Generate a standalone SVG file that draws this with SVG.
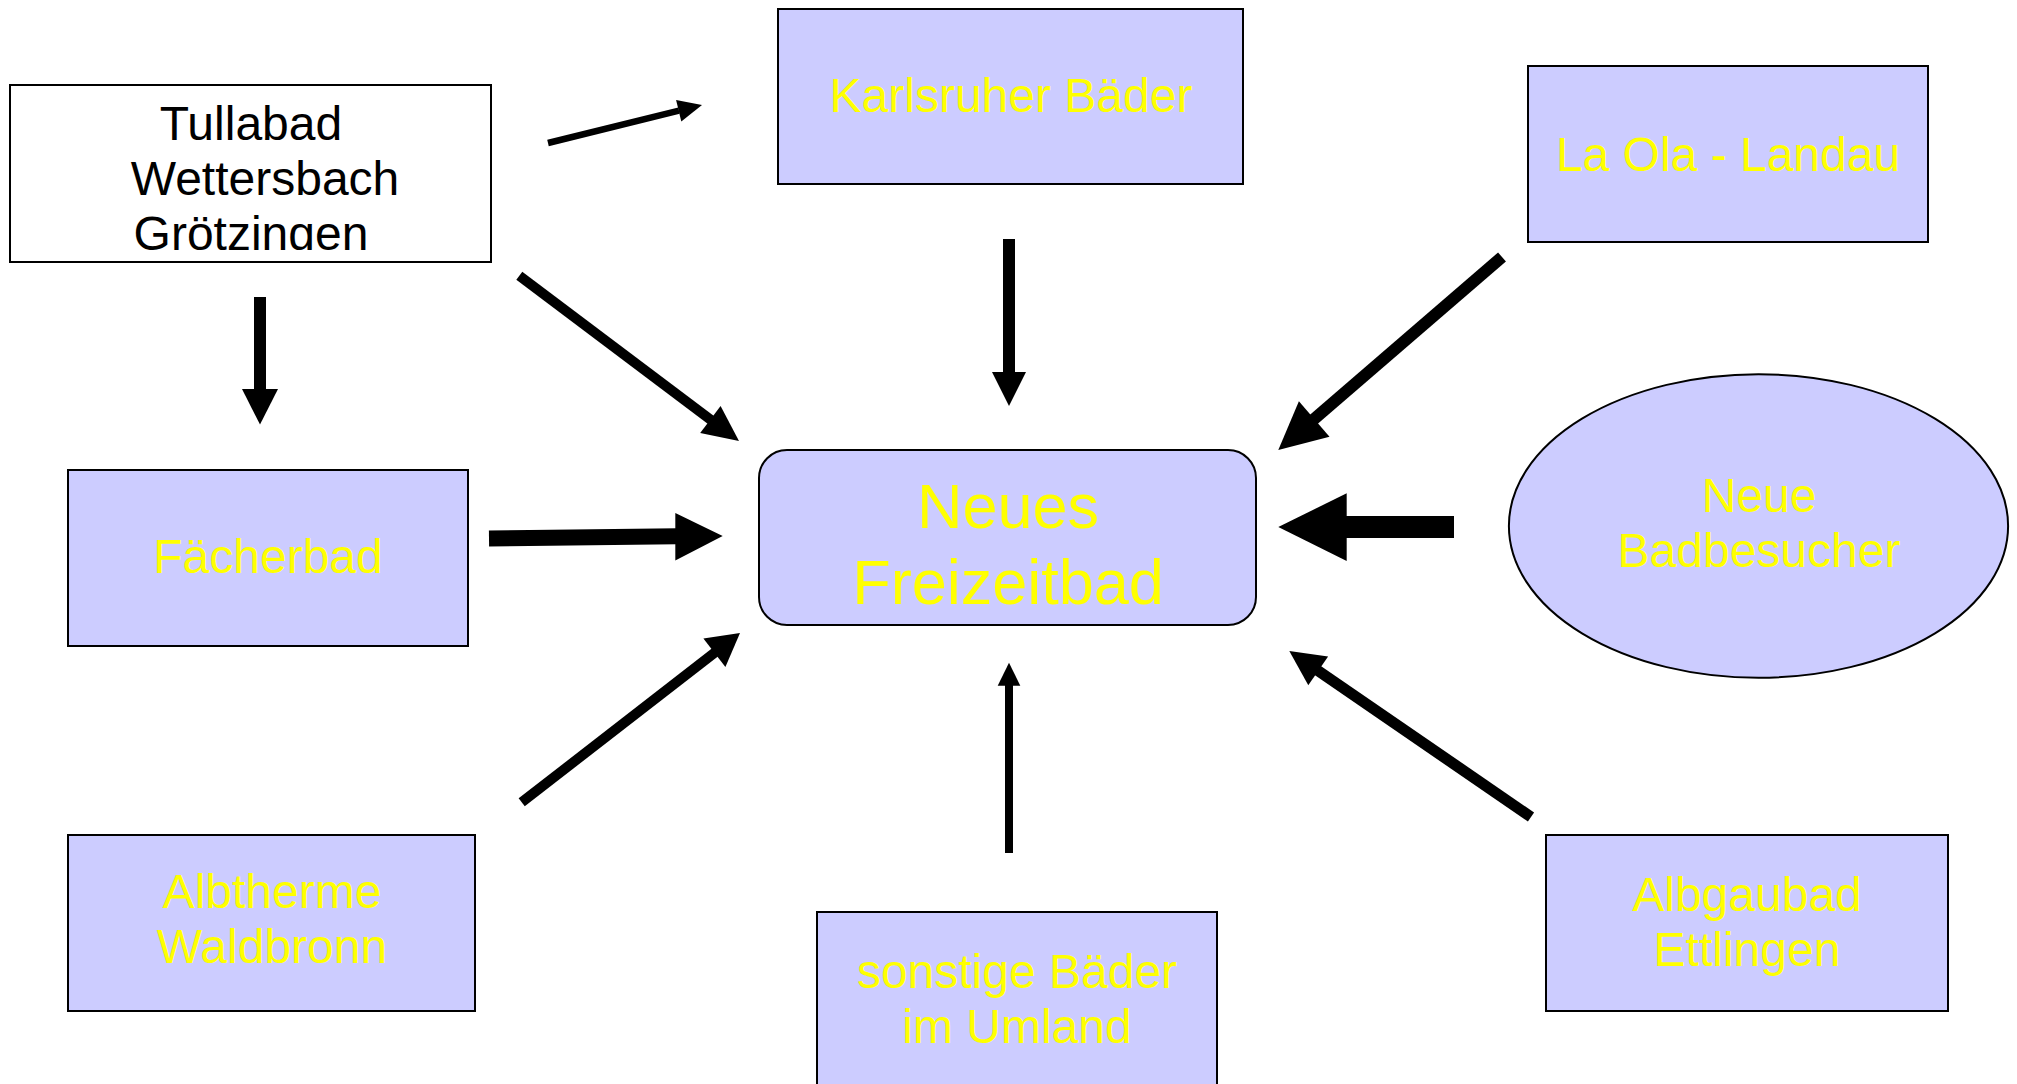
<svg xmlns="http://www.w3.org/2000/svg" width="2017" height="1084" viewBox="0 0 2017 1084">
<style>
.box{fill:#CCCCFF;stroke:#000;stroke-width:2}
.wbox{fill:#fff;stroke:#000;stroke-width:2}
.t{font-family:"Liberation Sans",Arial,sans-serif;font-size:48px;fill:#FFFF00;text-anchor:middle}
.tb{font-family:"Liberation Sans",Arial,sans-serif;font-size:48px;fill:#000;text-anchor:middle}
.big{font-size:63px}
.sh{stroke:#000;fill:none;stroke-linecap:butt}
.hd{fill:#000;stroke:none}
</style>
<defs>
<clipPath id="clipT"><rect x="10" y="85" width="481" height="165"/></clipPath>
</defs>
<rect width="2017" height="1084" fill="#fff"/>
<g id="connectors">
<line class="sh" x1="548" y1="143" x2="679" y2="110.7" stroke-width="6.5"/>
<polygon class="hd" points="702,105 681.3,121.4 676.1,100"/>
<line class="sh" x1="519.3" y1="275.8" x2="711" y2="420" stroke-width="10"/>
<polygon class="hd" points="739,441 700.2,433.1 720.6,405.9"/>
<line class="sh" x1="1009" y1="239" x2="1009" y2="373" stroke-width="12"/>
<polygon class="hd" points="1009,406 992,372 1026,372"/>
<line class="sh" x1="1502" y1="257" x2="1313" y2="420" stroke-width="12"/>
<polygon class="hd" points="1278.3,450 1298.9,401.2 1329.5,436.8"/>
<line class="sh" x1="1454" y1="527" x2="1345" y2="527" stroke-width="22"/>
<polygon class="hd" points="1278.3,527 1346.7,493.3 1346.7,561"/>
<line class="sh" x1="1009" y1="853" x2="1009" y2="684" stroke-width="8"/>
<polygon class="hd" points="1009,662.7 997.7,685.7 1020.3,685.7"/>
<line class="sh" x1="1531" y1="817" x2="1317" y2="670" stroke-width="11"/>
<polygon class="hd" points="1289.3,651 1328.1,656.6 1308.3,685.2"/>
<line class="sh" x1="489" y1="538.5" x2="677" y2="536.2" stroke-width="16"/>
<polygon class="hd" points="722.7,536 675.3,512.9 675.3,560.4"/>
<line class="sh" x1="521.7" y1="802.3" x2="715.5" y2="652" stroke-width="10"/>
<polygon class="hd" points="740,632.9 725.4,667 703.4,638.6"/>
<line class="sh" x1="260" y1="297" x2="260" y2="390" stroke-width="12"/>
<polygon class="hd" points="260,424.6 242,389 278,389"/>
</g>
<g id="tullabad">
<rect class="wbox" x="10" y="85" width="481" height="177"/>
<g clip-path="url(#clipT)">
<text class="tb" x="251" y="139.5">Tullabad</text>
<text class="tb" x="265" y="194.5">Wettersbach</text>
<text class="tb" x="251" y="249.5">Grötzingen</text>
</g>
</g>
<g id="karlsruher">
<rect class="box" x="778" y="9" width="465" height="175"/>
<text class="t" x="1011" y="112">Karlsruher Bäder</text>
</g>
<g id="laola">
<rect class="box" x="1528" y="66" width="400" height="176"/>
<text class="t" x="1728" y="171">La Ola - Landau</text>
</g>
<g id="neues">
<rect class="box" x="759" y="450" width="497" height="175" rx="28" ry="28"/>
<text class="t big" x="1008" y="528">Neues</text>
<text class="t big" x="1008" y="603.5">Freizeitbad</text>
</g>
<g id="badbesucher">
<ellipse class="box" cx="1758.5" cy="526" rx="249.6" ry="151.8"/>
<text class="t" x="1759" y="512">Neue</text>
<text class="t" x="1759" y="566.5">Badbesucher</text>
</g>
<g id="faecherbad">
<rect class="box" x="68" y="470" width="400" height="176"/>
<text class="t" x="268" y="573">Fächerbad</text>
</g>
<g id="albtherme">
<rect class="box" x="68" y="835" width="407" height="176"/>
<text class="t" x="272" y="908">Albtherme</text>
<text class="t" x="272" y="963">Waldbronn</text>
</g>
<g id="sonstige">
<rect class="box" x="817" y="912" width="400" height="200"/>
<text class="t" x="1017" y="988">sonstige Bäder</text>
<text class="t" x="1017" y="1043">im Umland</text>
</g>
<g id="albgaubad">
<rect class="box" x="1546" y="835" width="402" height="176"/>
<text class="t" x="1747" y="911">Albgaubad</text>
<text class="t" x="1747" y="966">Ettlingen</text>
</g>
</svg>
